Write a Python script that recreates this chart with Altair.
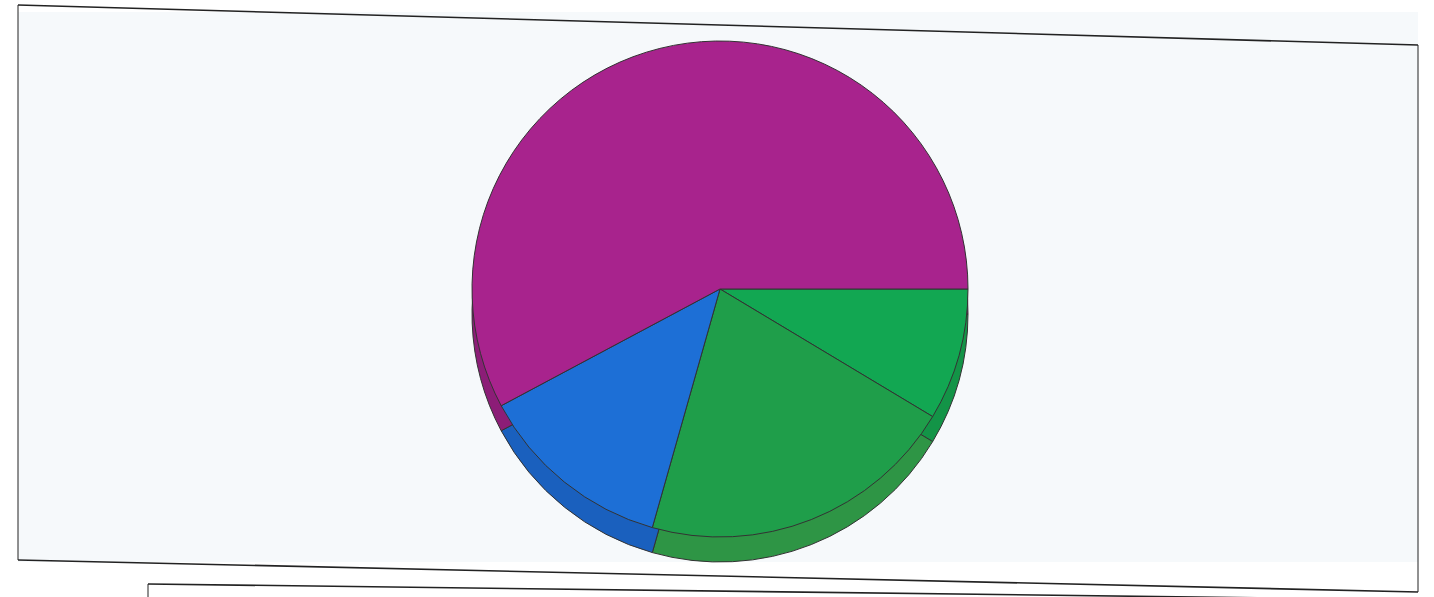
import altair as alt
import pandas as pd
import math

# Slice data (clockwise from 3 o'clock)
categories = ["Green (small)", "Green", "Blue", "Magenta"]
values = [8.6, 20.8, 12.8, 57.8]
order = [1, 2, 3, 4]
top_colors = ["#12A752", "#1F9E4A", "#1D6FD6", "#A8238D"]
side_colors = ["#139447", "#2E9545", "#1A60BE", "#8C1D77"]

df = pd.DataFrame({"cat": categories, "val": values, "ord": order})

theta_scale = alt.Scale(range=[math.pi / 2, math.pi / 2 + 2 * math.pi])

W, H = 1434, 597
CX, CY, R, DEPTH = 720, 289, 248, 25

blank = alt.Data(values=[{"a": 1}])

# Paper background inside the scanned frame
paper = alt.Chart(blank).mark_rect(fill="#F6F9FB").encode(
    x=alt.value(18), x2=alt.value(1418), y=alt.value(12), y2=alt.value(562)
)

def rule(x1, y1, x2, y2, w=1.6):
    return alt.Chart(blank).mark_rule(color="#222222", strokeWidth=w).encode(
        x=alt.value(x1), y=alt.value(y1), x2=alt.value(x2), y2=alt.value(y2)
    )

frame = alt.layer(
    rule(18, 5, 1418, 45),
    rule(18, 5, 18, 560, 1.0),
    rule(1418, 45, 1418, 592, 1.0),
    rule(18, 560, 1418, 592),
    rule(148, 584, 1434, 600),
    rule(148, 584, 148, 597, 1.0),
)

side = alt.Chart(df).mark_arc(radius=R, stroke="#333333", strokeWidth=1).encode(
    theta=alt.Theta("val:Q", stack=True, scale=theta_scale),
    order=alt.Order("ord:Q"),
    color=alt.Color("cat:N", scale=alt.Scale(domain=categories, range=side_colors), legend=None),
    x=alt.value(CX),
    y=alt.value(CY + DEPTH),
)

top = alt.Chart(df).mark_arc(radius=R, stroke="#333333", strokeWidth=1).encode(
    theta=alt.Theta("val:Q", stack=True, scale=theta_scale),
    order=alt.Order("ord:Q"),
    color=alt.Color("cat:N", scale=alt.Scale(domain=categories, range=top_colors), legend=None),
    x=alt.value(CX),
    y=alt.value(CY),
)

chart = alt.layer(paper, frame, side, top).resolve_scale(color="independent", theta="shared").properties(
    width=W, height=H, padding=0, autosize=alt.AutoSizeParams(type="none"),
    background="white",
).configure_view(stroke=None)

chart.save("out.html", embed_options={"renderer": "svg", "actions": False})
